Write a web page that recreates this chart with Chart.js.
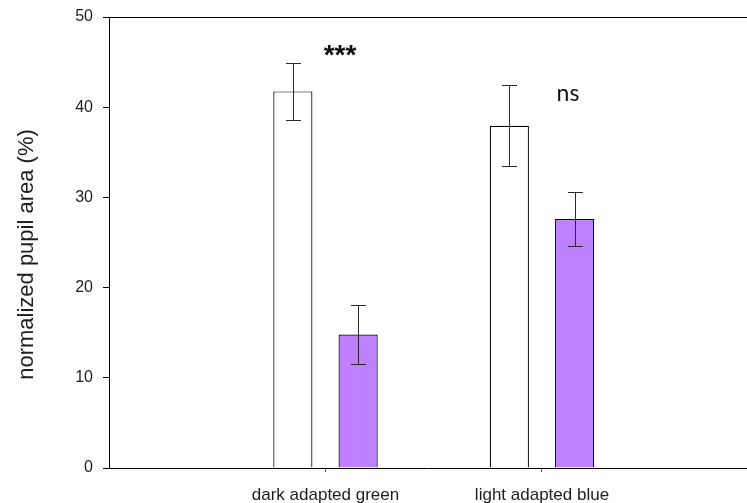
<!DOCTYPE html>
<html>
<head>
<meta charset="utf-8">
<script src="https://cdn.jsdelivr.net/npm/chart.js@4"></script>
<style>
  html, body { margin: 0; padding: 0; background: #fff; }
  #wrap { width: 747px; height: 503px; }
</style>
</head>
<body>
<div id="wrap"><canvas id="c" width="747" height="503"></canvas></div>
<script>
// ---- data ----
const categories = ['dark adapted green', 'light adapted blue'];
const categoryPos = [1, 2];
const controlValues = [41.75, 37.95];
const controlErrors = [3.15, 4.5];
const treatedValues = [14.8, 27.6];
const treatedErrors = [3.3, 2.95];
const yTicks = [0, 10, 20, 30, 40, 50];
const yTitle = 'normalized pupil area (%)';
const sigLabels = ['***', 'ns'];
const sigPos = [[1.067, 46.3], [2.12, 41.35]];

const FONT = '"Liberation Sans", Arial, Helvetica, sans-serif';
const TXT = '#1e1e1e';

function toXY(vals) { return vals.map((v, i) => ({ x: categoryPos[i], y: v })); }

const extras = {
  id: 'extras',
  afterDatasetsDraw(chart) {
    const ctx = chart.ctx;
    const xs = chart.scales.x, ys = chart.scales.y;
    const area = chart.chartArea;
    ctx.save();
    // error bars
    const errs = [controlErrors, treatedErrors];
    chart.data.datasets.forEach((ds, di) => {
      const meta = chart.getDatasetMeta(di);
      meta.data.forEach((bar, i) => {
        const v = ds.data[i].y, e = errs[di][i];
        const yTop = ys.getPixelForValue(v + e);
        const yBot = ys.getPixelForValue(v - e);
        const x = Math.round(bar.x) + 0.5;
        ctx.strokeStyle = '#2a2a2a';
        ctx.lineWidth = 1;
        ctx.beginPath();
        ctx.moveTo(x, Math.round(yTop) + 0.5); ctx.lineTo(x, Math.round(yBot) + 0.5);
        ctx.moveTo(x - 7.5, Math.round(yTop) + 0.5); ctx.lineTo(x + 7.5, Math.round(yTop) + 0.5);
        ctx.moveTo(x - 7.5, Math.round(yBot) + 0.5); ctx.lineTo(x + 7.5, Math.round(yBot) + 0.5);
        ctx.stroke();
      });
    });
    // top frame line
    ctx.strokeStyle = '#000';
    ctx.lineWidth = 1;
    ctx.beginPath();
    ctx.moveTo(area.left, Math.round(area.top) + 0.5);
    ctx.lineTo(area.right, Math.round(area.top) + 0.5);
    ctx.stroke();
    // significance labels
    const fonts = ['bold 28px ' + FONT, '23px Lato, "Open Sans", sans-serif'];
    sigLabels.forEach((t, i) => {
      ctx.font = fonts[i];
      ctx.fillStyle = '#111';
      ctx.textAlign = 'center';
      ctx.textBaseline = 'alphabetic';
      const m = ctx.measureText(t);
      const cx = xs.getPixelForValue(sigPos[i][0]);
      const cy = ys.getPixelForValue(sigPos[i][1]);
      ctx.fillText(t, cx, cy + (m.actualBoundingBoxAscent - m.actualBoundingBoxDescent) / 2);
    });
    // y title
    ctx.font = '22px ' + FONT;
    ctx.fillStyle = TXT;
    ctx.textAlign = 'center';
    ctx.textBaseline = 'middle';
    ctx.translate(27, (area.top + area.bottom) / 2 + 12);
    ctx.rotate(-Math.PI / 2);
    ctx.fillText(yTitle, 0, 0);
    ctx.restore();
  }
};

new Chart(document.getElementById('c'), {
  type: 'bar',
  data: {
    datasets: [
      { label: 'control', data: toXY(controlValues), backgroundColor: '#ffffff', borderColor: '#000', borderWidth: 1.2 },
      { label: 'treated', data: toXY(treatedValues), backgroundColor: '#bf80ff', borderColor: '#000', borderWidth: 1.2 }
    ]
  },
  options: {
    responsive: false,
    animation: false,
    events: [],
    categoryPercentage: 0.603,
    barPercentage: 0.6,
    layout: { padding: { top: 17, right: 0, bottom: 0, left: 0 } },
    plugins: { legend: { display: false }, tooltip: { enabled: false }, title: { display: false } },
    scales: {
      x: {
        type: 'linear',
        min: 0,
        max: 2.947,
        offset: false,
        afterBuildTicks: (s) => { s.ticks = categoryPos.map(v => ({ value: v })); },
        afterFit: (s) => { s.height = 35; s.paddingLeft = 0; s.paddingRight = 0; },
        ticks: {
          autoSkip: false, maxRotation: 0, padding: 13,
          color: TXT, font: { family: FONT, size: 17 },
          callback: (v) => { const i = categoryPos.indexOf(v); return i >= 0 ? categories[i] : ''; }
        },
        grid: { display: true, offset: false, drawOnChartArea: false, drawTicks: true, tickLength: 4, color: '#555', lineWidth: 1 },
        border: { display: true, color: '#000', width: 1 }
      },
      y: {
        min: 0,
        max: 50,
        afterBuildTicks: (s) => { s.ticks = yTicks.map(v => ({ value: v })); },
        afterFit: (s) => { s.width = 109; s.paddingTop = 0; s.paddingBottom = 0; },
        ticks: { padding: 10, color: TXT, font: { family: FONT, size: 16 } },
        grid: { display: true, drawOnChartArea: false, drawTicks: true, tickLength: 6, color: '#000', lineWidth: 1 },
        border: { display: true, color: '#000', width: 1 }
      }
    }
  },
  plugins: [extras]
});
</script>
</body>
</html>
